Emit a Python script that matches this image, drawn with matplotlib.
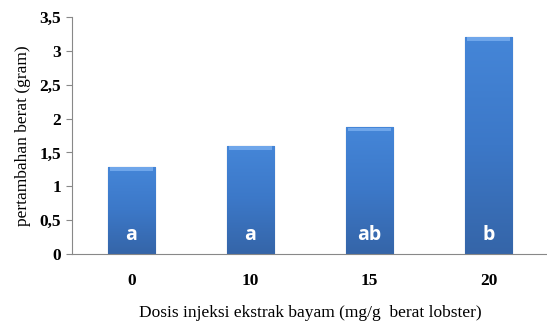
import numpy as np
import matplotlib.pyplot as plt
from matplotlib.colors import LinearSegmentedColormap

# Data
doses = ["0", "10", "15", "20"]
weight_gain = [1.29, 1.60, 1.87, 3.21]
letters = ["a", "a", "ab", "b"]
y_ticks = [0, 0.5, 1, 1.5, 2, 2.5, 3, 3.5]
y_tick_labels = ["0", "0,5", "1", "1,5", "2", "2,5", "3", "3,5"]

fig = plt.figure(figsize=(5.47, 3.22), dpi=100)
ax = fig.add_axes([72 / 547, 1 - 254 / 322, 476 / 547, 237 / 322])

x = np.arange(len(doses))
bars = ax.bar(x, weight_gain, width=0.40, color="#3A75C4",
              edgecolor="#2A5590", linewidth=0.8, zorder=2)

# gradient fill like the Excel bars
cmap = LinearSegmentedColormap.from_list("blue", ["#3565A8", "#3C78C8", "#4586D8"])
grad = np.linspace(0, 1, 256).reshape(-1, 1)
for b in bars:
    x0, w, h = b.get_x(), b.get_width(), b.get_height()
    im = ax.imshow(grad, cmap=cmap, aspect="auto", origin="lower",
                   extent=[x0, x0 + w, 0, h], zorder=2.5)
    im.set_clip_path(b)
    # light bevel at the top
    ax.fill_between([x0 + 0.02, x0 + w - 0.02], h - 0.06, h - 0.01,
                    color="#6FA6EA", zorder=2.6, linewidth=0)

for xi, lab in zip(x, letters):
    ax.text(xi, 0.28, lab, color="white", fontsize=14, fontweight="bold",
            family="Open Sans", ha="center", va="center", zorder=3)

ax.set_xlim(-0.5, 3.5)
ax.set_ylim(0, 3.5)
ax.set_yticks(y_ticks)
ax.set_yticklabels(y_tick_labels, family="Liberation Serif", fontweight="bold", fontsize=12.5)
ax.set_xticks(x)
ax.set_xticklabels(doses, family="Liberation Serif", fontweight="bold", fontsize=12.5)
ax.tick_params(axis="x", length=0, pad=14)
ax.tick_params(axis="y", length=4, color="#888888", pad=4)

for s in ["top", "right"]:
    ax.spines[s].set_visible(False)
ax.spines["left"].set_color("#888888")
ax.spines["bottom"].set_color("#888888")

ax.set_ylabel("pertambahan berat (gram)", family="Liberation Serif", fontsize=12.5, labelpad=6)
ax.set_xlabel("Dosis injeksi ekstrak bayam (mg/g  berat lobster)",
              family="Liberation Serif", fontsize=12.5, labelpad=11)

plt.savefig("out.png", dpi=100)
